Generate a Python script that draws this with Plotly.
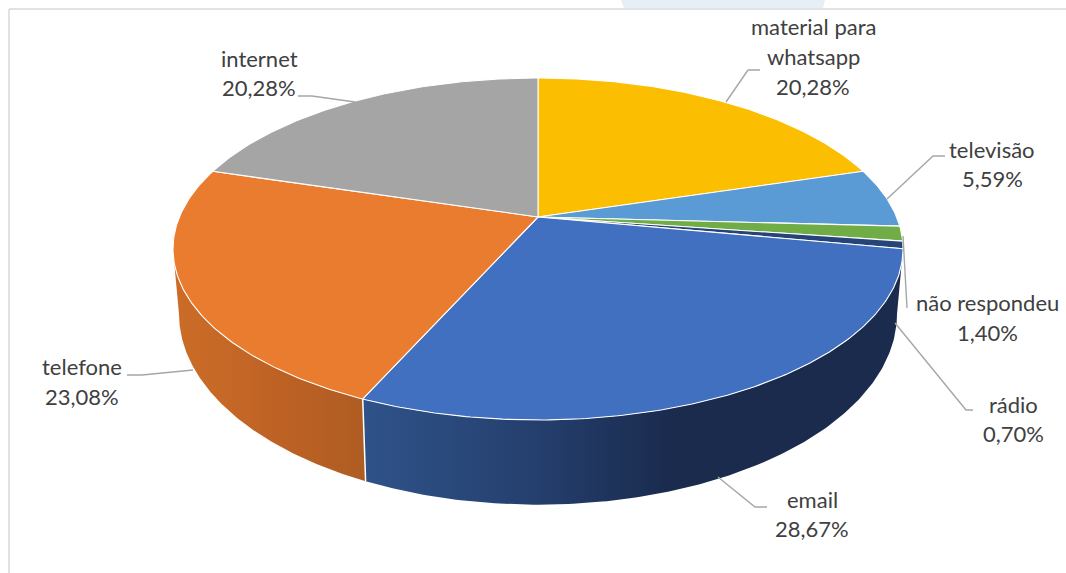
import numpy as np
import plotly.graph_objects as go

# Survey shares, clockwise from twelve o'clock
categories = ["material para whatsapp", "televisão", "não respondeu", "rádio",
              "email", "telefone", "internet"]
shares = [20.28, 5.59, 1.40, 0.70, 28.67, 23.08, 20.28]

top_colors = ["#FBBE00", "#5B9BD5", "#70AD47", "#264478", "#4170C0", "#EA7C30", "#A5A5A5"]

# Side-wall shading: horizontal gradient extent and colour stops
wall_shades = {
    "email": dict(start=361, stop=910, stops=[
        (0.0, "#2F538A"), (0.33, "#243E6C"), (0.56, "#1A2B4E"), (1.0, "#1A2B4E")]),
    "telefone": dict(start=170, stop=370, stops=[
        (0.0, "#CC6C28"), (0.3, "#C56726"), (0.65, "#BA6024"), (1.0, "#AE5C22")]),
}

# Label layout: one (x, y) per text line, plus the leader polyline
label_lines = {
    "material para whatsapp": (813, [27, 57, 87], ["material para", "whatsapp"]),
    "televisão": (992, [150, 179], ["televisão"]),
    "não respondeu": (987, [303, 333], ["não respondeu"]),
    "rádio": (1013, [405, 434], ["rádio"]),
    "email": (812, [500, 529], ["email"]),
    "telefone": (82, [367, 397], ["telefone"]),
    "internet": (259, [59, 88], ["internet"]),
}
leaders = {
    "material para whatsapp": [(760, 70), (748, 70), (726, 102)],
    "televisão": [(945, 156), (933, 156), (887, 199)],
    "não respondeu": [(903, 236), (907, 308)],
    "rádio": [(895, 323), (966, 410), (973, 410)],
    "email": [(718, 477), (755, 507), (767, 507)],
    "telefone": [(127, 375), (142, 375), (193, 370)],
    "internet": [(298, 96), (312, 96), (355, 102)],
}

# Perspective projection of the pie's top and bottom discs
CX = 538
PERSP = -0.187
TOP = dict(y0=217.0, a=358.6, b=165.0)
BOTTOM = dict(y0=278.0, a=352.7, b=184.3)

# The wall is only visible between the two silhouette angles of the projected disc
WALL_FROM = np.arccos(PERSP)
WALL_TO = 2 * np.pi - WALL_FROM


def project(theta, disc):
    u, v = np.sin(theta), -np.cos(theta)
    w = 1 + PERSP * v
    return CX + disc["a"] * u / w, disc["y0"] + disc["b"] * v / w


edges = np.cumsum([0] + shares) / sum(shares) * 2 * np.pi
fig = go.Figure()

# Side walls with a horizontal gradient fill
for name, start, end in zip(categories, edges[:-1], edges[1:]):
    if name not in wall_shades:
        continue
    cfg = wall_shades[name]
    th = np.linspace(max(start, WALL_FROM), min(end, WALL_TO), 160)
    ux, uy = project(th, TOP)
    lx, ly = project(th[::-1], BOTTOM)
    fig.add_trace(go.Scatter(
        x=[*ux, *lx, ux[0]], y=[*uy, *ly, uy[0]], mode="lines", fill="toself",
        fillgradient=dict(type="horizontal", start=cfg["start"], stop=cfg["stop"],
                          colorscale=[list(s) for s in cfg["stops"]]),
        line=dict(width=0), hoverinfo="skip", showlegend=False))

# White seam where the two visible walls meet
seam = edges[categories.index("email") + 1]
sx0, sy0 = project(seam, TOP)
sx1, sy1 = project(seam, BOTTOM)
fig.add_trace(go.Scatter(x=[sx0, sx1], y=[sy0, sy1], mode="lines",
                         line=dict(color="white", width=1.5),
                         hoverinfo="skip", showlegend=False))

# Top face wedges
for name, share, start, end, color in zip(categories, shares, edges[:-1], edges[1:], top_colors):
    th = np.linspace(start, end, max(8, int(share * 6)))
    rx, ry = project(th, TOP)
    fig.add_trace(go.Scatter(
        x=[CX, *rx, CX], y=[TOP["y0"], *ry, TOP["y0"]], mode="lines",
        fill="toself", fillcolor=color, line=dict(color="white", width=1.1),
        name=name, hovertemplate=f"{name}: {share:.2f}%<extra></extra>", showlegend=False))

# Leader lines
for pts in leaders.values():
    fig.add_trace(go.Scatter(x=[p[0] for p in pts], y=[p[1] for p in pts], mode="lines",
                             line=dict(color="#A6A6A6", width=1.4),
                             hoverinfo="skip", showlegend=False))

# Data labels, one annotation per text line
annotations = []
for name, share in zip(categories, shares):
    tx, ys, words = label_lines[name]
    for text, ty in zip(words + [f"{share:.2f}%".replace(".", ",")], ys):
        annotations.append(dict(
            x=tx, y=ty - 1, text=text, showarrow=False, xanchor="center", yanchor="middle",
            font=dict(family="Lato", size=22, color="#404040")))

# Chart frame and the pale band above it
shapes = [
    dict(type="path", path="M 621 0 L 624 8 L 823 8 L 825 0 Z",
         fillcolor="#E6EEF6", line=dict(width=0), layer="below"),
    dict(type="line", x0=9, y0=9, x1=1066, y1=9, line=dict(color="#D9D9D9", width=1.5), layer="below"),
    dict(type="line", x0=9, y0=9, x1=9, y1=573, line=dict(color="#D9D9D9", width=1.5), layer="below"),
]

fig.update_layout(
    width=1066, height=573, autosize=False,
    margin=dict(l=0, r=0, t=0, b=0),
    paper_bgcolor="white", plot_bgcolor="white",
    xaxis=dict(range=[0, 1066], visible=False, fixedrange=True),
    yaxis=dict(range=[573, 0], visible=False, fixedrange=True),
    annotations=annotations, shapes=shapes, showlegend=False,
)
fig.write_html("out.html", config={"displayModeBar": False})
